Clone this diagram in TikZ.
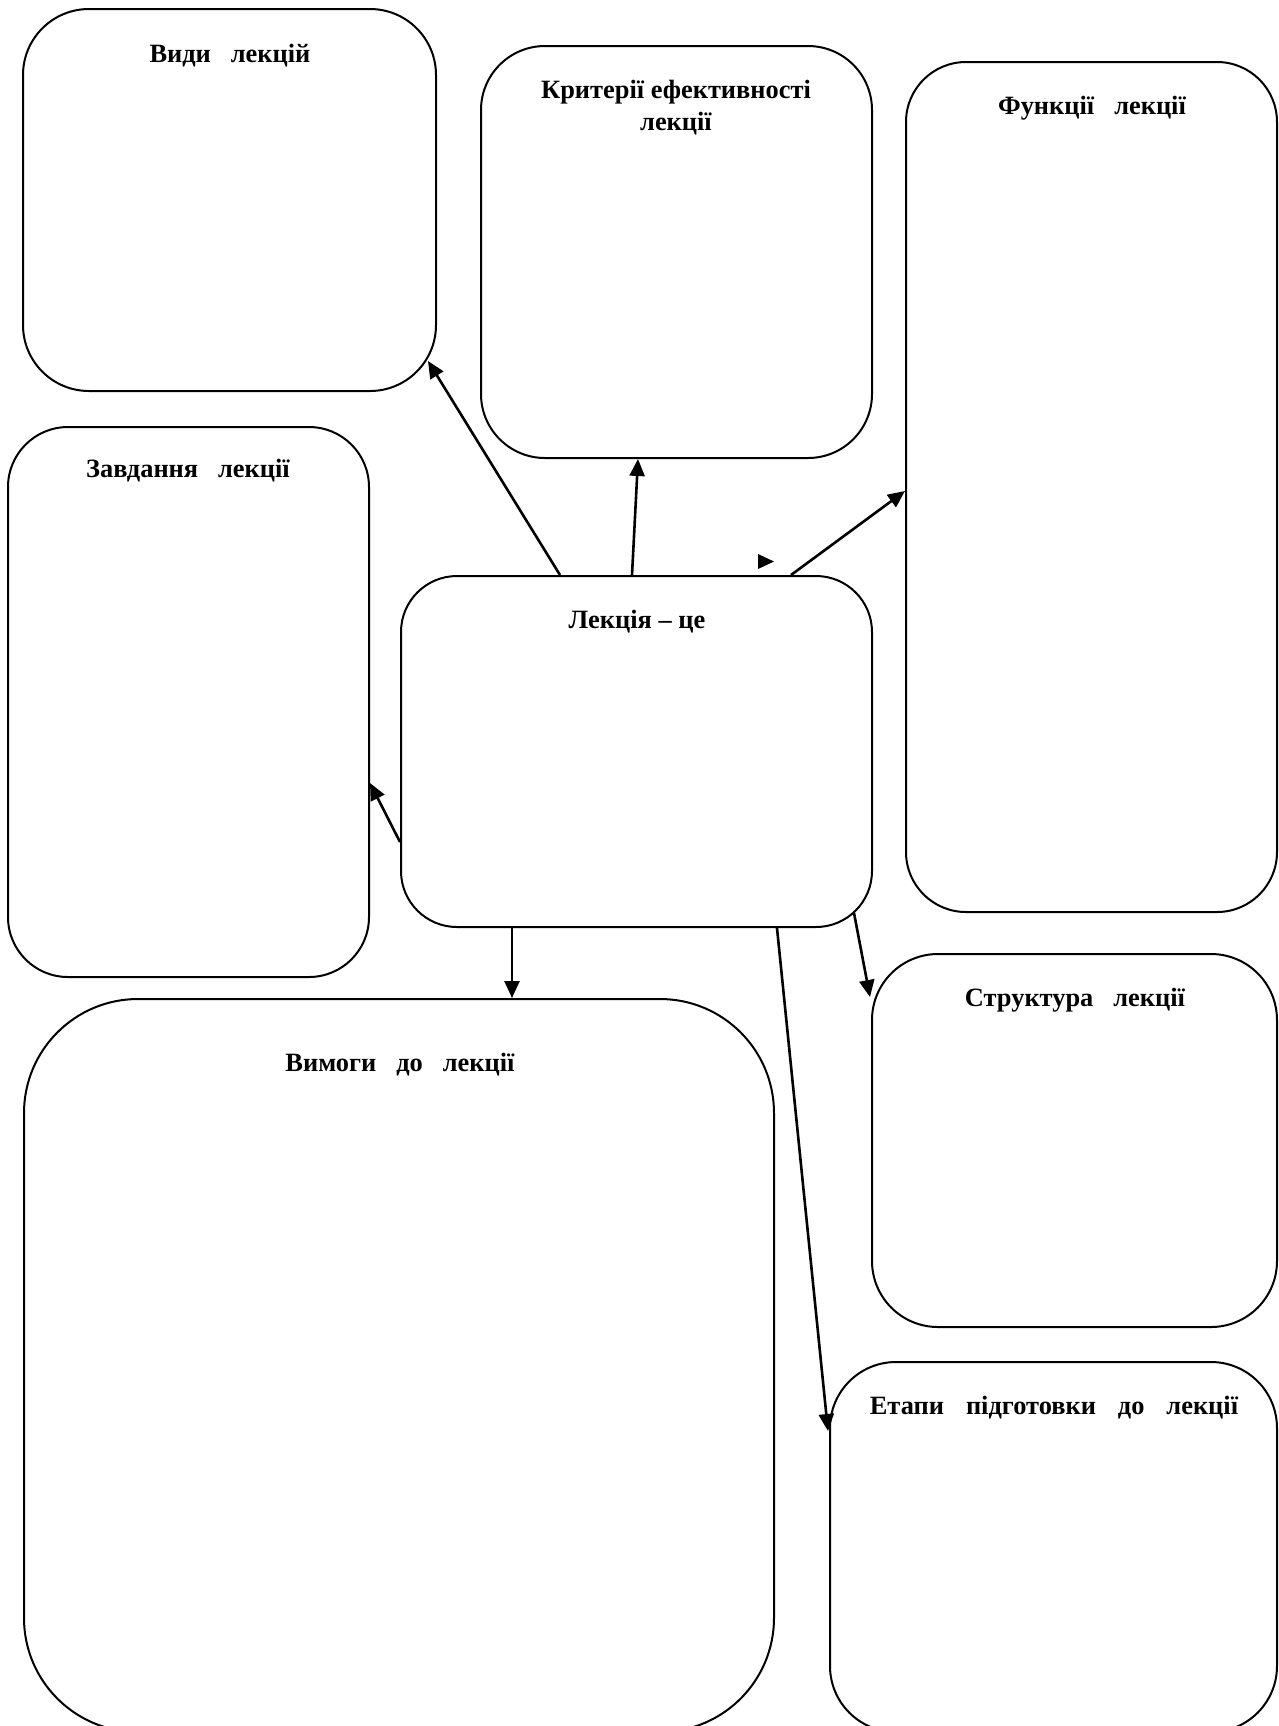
\documentclass[tikz,border=0pt]{standalone}
\usepackage{fontspec}
\setmainfont{Liberation Serif}
\usetikzlibrary{arrows.meta,calc}
\begin{document}
\begin{tikzpicture}[x={(0.5pt,0)},y={(0,-0.5pt)},
  box/.style={draw=black,line width=1pt,inner sep=0pt,rectangle},
  ttl/.style={font=\fontsize{13.2}{16}\selectfont\bfseries,align=center,inner sep=0pt},
  arr/.style={line width=1.3pt,-{Triangle[length=8.5pt,width=7.5pt]}}]
\useasboundingbox (0,0) rectangle (1279,1726);
\clip (0,0) rectangle (1279,1726);
% boxes
\node[box,minimum width=206.5pt,minimum height=191pt,rounded corners=33pt] (vyd) at (229.5,200) {};
\node[box,minimum width=195.5pt,minimum height=206pt,rounded corners=32pt] (kry) at (676.5,252) {};
\node[box,minimum width=185.5pt,minimum height=425pt,rounded corners=30pt] (fun) at (1091.5,487) {};
\node[box,minimum width=180.5pt,minimum height=275pt,rounded corners=30pt] (zav) at (188.5,702) {};
\node[box,minimum width=235.5pt,minimum height=175.5pt,rounded corners=28pt] (lek) at (636.5,751.5) {};
\node[box,minimum width=375pt,minimum height=366.5pt,rounded corners=57pt] (vym) at (399,1365.5) {};
\node[box,minimum width=202.5pt,minimum height=186.5pt,rounded corners=33pt] (str) at (1074.5,1140.5) {};
\node[box,minimum width=223.5pt,minimum height=185pt,rounded corners=33pt] (eta) at (1053.5,1547) {};
% titles
\node[ttl] (tvyd) at (230,56) {Види\hspace{10pt}лекцій};
\node[ttl] (tkry) at (676,108) {Критерії ефективності\\лекції};
\node[ttl] (tfun) at (1092,108) {Функції\hspace{10pt}лекції};
\node[ttl] (tzav) at (188,471) {Завдання\hspace{10pt}лекції};
\node[ttl] (tlek) at (637,622) {Лекція – це};
\node[ttl] (tvym) at (400,1065) {Вимоги\hspace{10pt}до\hspace{10pt}лекції};
\node[ttl] (tstr) at (1075,1000) {Структура\hspace{10pt}лекції};
\node[ttl] (teta) at (1054,1408) {Етапи\hspace{11pt}підготовки\hspace{11pt}до\hspace{11pt}лекції};
% connectors
\draw[arr] ($(lek.north west)+(160,0)$) -- ($(vyd.south east)+(-9,-31)$);
\draw[arr] ($(lek.north west)+(232,0)$) -- ($(kry.south west)+(158,0)$);
\draw[arr] ($(lek.north west)+(391,0)$) -- ($(fun.west)+(0,4)$);
\draw[arr] ($(lek.west)+(0,90.5)$) -- ($(zav.east)+(0,81)$);
\draw[arr] ($(lek.south west)+(112,0)$) -- ($(vym.north west)+(489,0)$);
\draw[arr] ($(lek.south east)+(-19,-15)$) -- ($(str.north west)+(-1,44)$);
\draw[arr] ($(lek.south west)+(377,0)$) -- ($(eta.north west)+(-1,70)$);
% stray arrowhead
\fill (758,554) -- (774,561.5) -- (758,569) -- cycle;
\end{tikzpicture}
\end{document}
